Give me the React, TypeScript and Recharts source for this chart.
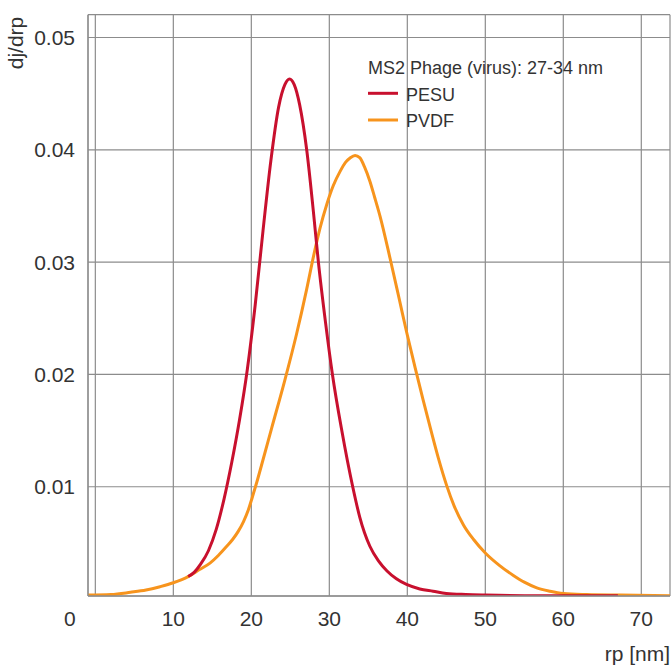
import React from 'react';
import { LineChart, Line, XAxis, YAxis, CartesianGrid, Customized } from 'recharts';

const pesuX = [11.9, 12.7, 13.5, 14.5, 15.5, 16.5, 17.5, 18.5, 19.5, 20.5, 21.5, 22.5, 23.5, 24.3, 24.9, 25.5, 26.2, 27.1, 28.0, 28.6, 29.5, 30.4, 31.6, 33.0, 33.9, 35.2, 36.3, 37.4, 38.6, 39.9, 41.6, 43.3, 45.0, 47.5, 50.0, 55.0, 60.0, 67.0];
const pesuY = [0.002, 0.0024, 0.0031, 0.0043, 0.0062, 0.0089, 0.0122, 0.016, 0.0205, 0.0262, 0.0328, 0.039, 0.0438, 0.0458, 0.0463, 0.0458, 0.044, 0.04, 0.0342, 0.03, 0.0247, 0.02, 0.015, 0.01, 0.0073, 0.0047, 0.0034, 0.0025, 0.0018, 0.0013, 0.0009, 0.0007, 0.0005, 0.0004, 0.00035, 0.0003, 0.0003, 0.0003];

const pvdfX = [-0.94, 2.0, 4.5, 6.5, 8.3, 10.0, 11.9, 13.3, 14.7, 15.8, 16.85, 17.6, 18.3, 19.0, 19.6, 20.1, 20.7, 21.5, 22.6, 24.3, 25.8, 27.1, 28.0, 28.8, 29.7, 30.5, 31.4, 32.1, 32.7, 33.3, 33.9, 34.5, 35.2, 35.8, 36.5, 37.8, 39.0, 39.9, 41.0, 42.0, 43.0, 44.0, 45.05, 46.0, 47.2, 48.5, 50.0, 51.8, 53.6, 55.0, 56.6, 58.3, 60.0, 63.0, 67.3, 73.68];
const pvdfY = [0.00035, 0.0004, 0.0006, 0.0008, 0.0011, 0.00145, 0.002, 0.0026, 0.0032, 0.0039, 0.0047, 0.0053, 0.006, 0.0069, 0.0079, 0.009, 0.0104, 0.0124, 0.0152, 0.0195, 0.0236, 0.0276, 0.0306, 0.033, 0.0352, 0.0368, 0.0381, 0.0389, 0.0393, 0.0395, 0.0393, 0.0385, 0.0372, 0.0358, 0.0341, 0.0303, 0.0266, 0.0238, 0.0206, 0.0178, 0.0151, 0.0125, 0.0101, 0.0083, 0.0066, 0.0053, 0.0041, 0.003, 0.0021, 0.0015, 0.001, 0.0007, 0.0005, 0.0004, 0.00035, 0.0003];

const xTicks = [0, 10, 20, 30, 40, 50, 60, 70];
const yTicks = [0.01, 0.02, 0.03, 0.04, 0.05];
const seriesNames = ['PESU', 'PVDF'];
const legendTitle = 'MS2 Phage (virus): 27-34 nm';
const xLabel = 'rp [nm]';
const yLabel = 'dj/drp';

const RED = '#c8102e';
const ORANGE = '#f7941d';
const GRID = '#8c8c8c';
const TEXT = '#333333';
const FONT = '"Liberation Sans", Arial, sans-serif';

const pesuData = pesuX.map((x, i) => ({ x, y: pesuY[i] }));
const pvdfData = pvdfX.map((x, i) => ({ x, y: pvdfY[i] }));

const XTick = (props: any) => {
  const { x, y, payload } = props;
  const px = payload.value === 0 ? x - 25.6 : x;
  return (
    <text x={px} y={y} dy="0.71em" textAnchor="middle" fill={TEXT} fontSize={21} fontFamily={FONT}>
      {payload.value}
    </text>
  );
};

const YTick = (props: any) => {
  const { x, y, payload } = props;
  return (
    <text x={x} y={y} dy="0.355em" textAnchor="end" fill={TEXT} fontSize={21} fontFamily={FONT}>
      {Number(payload.value).toFixed(2)}
    </text>
  );
};

const Annotations = () => (
  <g fontFamily={FONT}>
    <text x={23} y={43} transform="rotate(-90 23 43)" textAnchor="middle" fill={TEXT} fontSize={21}>
      {yLabel}
    </text>
    <text x={670} y={661} textAnchor="end" fill={TEXT} fontSize={21}>
      {xLabel}
    </text>
    <text x={368} y={74.3} fill={TEXT} fontSize={18}>
      {legendTitle}
    </text>
    <line x1={368} x2={398} y1={93.3} y2={93.3} stroke={RED} strokeWidth={3} />
    <text x={406} y={101} fill={TEXT} fontSize={18}>
      {seriesNames[0]}
    </text>
    <line x1={368} x2={398} y1={120} y2={120} stroke={ORANGE} strokeWidth={3} />
    <text x={406} y={127.3} fill={TEXT} fontSize={18}>
      {seriesNames[1]}
    </text>
  </g>
);

export default function App() {
  return (
    <div style={{ position: 'absolute', left: 0, top: 0, background: '#fff' }}>
      <LineChart width={671} height={666} margin={{ top: 14.7, right: 1, bottom: 30, left: 0 }}>
        <CartesianGrid stroke={GRID} strokeWidth={1.2} />
        <XAxis
          dataKey="x"
          type="number"
          domain={[-0.94, 73.68]}
          allowDataOverflow
          ticks={xTicks}
          tick={<XTick />}
          tickSize={0}
          tickMargin={15}
          height={40}
          axisLine={{ stroke: GRID, strokeWidth: 1.5 }}
          tickLine={false}
        />
        <XAxis
          xAxisId="top"
          orientation="top"
          type="number"
          domain={[0, 1]}
          height={0}
          tick={false}
          tickLine={false}
          axisLine={{ stroke: GRID, strokeWidth: 1.2 }}
        />
        <YAxis
          dataKey="y"
          type="number"
          domain={[0.00027, 0.05203]}
          allowDataOverflow
          ticks={yTicks}
          tick={<YTick />}
          tickSize={0}
          tickMargin={13}
          width={88}
          axisLine={{ stroke: GRID, strokeWidth: 1.2 }}
          tickLine={false}
        />
        <YAxis
          yAxisId="right"
          orientation="right"
          type="number"
          domain={[0, 1]}
          width={0}
          tick={false}
          tickLine={false}
          axisLine={{ stroke: GRID, strokeWidth: 1.2 }}
        />
        <Line
          data={pvdfData}
          dataKey="y"
          name={seriesNames[1]}
          type="monotone"
          stroke={ORANGE}
          strokeWidth={3}
          dot={false}
          activeDot={false}
          isAnimationActive={false}
        />
        <Line
          data={pesuData}
          dataKey="y"
          name={seriesNames[0]}
          type="monotone"
          stroke={RED}
          strokeWidth={3}
          dot={false}
          activeDot={false}
          isAnimationActive={false}
        />
        <Customized component={Annotations} />
      </LineChart>
    </div>
  );
}
